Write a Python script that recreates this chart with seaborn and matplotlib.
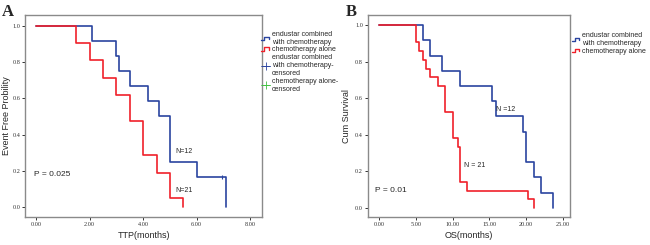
import numpy as np
import pandas as pd
import matplotlib
matplotlib.use('Agg')
import matplotlib.pyplot as plt
import seaborn as sns
from matplotlib.legend_handler import HandlerBase
from matplotlib.lines import Line2D

# ── Dados (curvas de Kaplan-Meier, degraus) ─────────────────────────────────
# Painel A: TTP
ttp_time_combo = [0.0, 2.1, 3.0, 3.1, 3.5, 4.2, 4.6, 5.0, 6.0, 7.1]
ttp_surv_combo = [1.0, 0.917, 0.833, 0.75, 0.667, 0.583, 0.5, 0.25, 0.167, 0.0]
ttp_time_chemo = [0.0, 1.5, 2.0, 2.5, 3.0, 3.5, 4.0, 4.5, 5.0, 5.5]
ttp_surv_chemo = [1.0, 0.905, 0.81, 0.714, 0.619, 0.476, 0.286, 0.19, 0.048, 0.0]
ttp_cens_time = [6.95]
ttp_cens_surv = [0.167]

# Painel B: OS
os_time_combo = [0.0, 6.0, 7.0, 8.5, 11.0, 15.4, 15.9, 19.5, 20.0, 21.0, 22.0, 23.6]
os_surv_combo = [1.0, 0.917, 0.833, 0.75, 0.667, 0.583, 0.5, 0.417, 0.25, 0.167, 0.083, 0.0]
os_time_chemo = [0.0, 5.0, 5.4, 6.0, 6.45, 7.0, 8.0, 9.0, 10.1, 10.7, 11.0, 12.0, 20.3, 21.0]
os_surv_chemo = [1.0, 0.905, 0.857, 0.81, 0.762, 0.714, 0.667, 0.524, 0.381, 0.333,
                 0.143, 0.095, 0.048, 0.0]

ttp_ticks = [0, 2, 4, 6, 8]
os_ticks = [0, 5, 10, 15, 20, 25]
y_ticks = [0.0, 0.2, 0.4, 0.6, 0.8, 1.0]

BLUE = '#2a44a0'
RED = '#f0202a'
GREEN = '#40c040'

sns.set_theme(style='ticks')
plt.rcParams['font.family'] = ['Liberation Sans', 'DejaVu Sans']


class StepHandler(HandlerBase):
    # ícone em degrau, como no SPSS
    def create_artists(self, legend, orig_handle, xd, yd, w, h, fontsize, trans):
        x0 = -xd
        y0 = -yd
        xs = [x0, x0 + w * 0.35, x0 + w * 0.35, x0 + w * 0.8, x0 + w * 0.8]
        ys = [y0 + h * 0.15, y0 + h * 0.15, y0 + h * 0.8, y0 + h * 0.8, y0 + h * 0.3]
        ln = Line2D(xs, ys, color=orig_handle.get_color(), lw=1.0, transform=trans)
        return [ln]


def km_panel(ax, t1, s1, t2, s2, xlim, ylim, xticks):
    sns.lineplot(x=t1, y=s1, ax=ax, drawstyle='steps-post', color=BLUE, lw=1.2,
                 estimator=None, sort=False)
    sns.lineplot(x=t2, y=s2, ax=ax, drawstyle='steps-post', color=RED, lw=1.2,
                 estimator=None, sort=False)
    ax.set_xlim(*xlim)
    ax.set_ylim(*ylim)
    ax.set_xticks(xticks)
    ax.set_xticklabels([f'{v:.2f}' for v in xticks], family='Liberation Serif', fontsize=4.5)
    ax.set_yticks(y_ticks)
    ax.set_yticklabels([f'{v:.1f}' for v in y_ticks], family='Liberation Serif', fontsize=4.5)
    ax.tick_params(length=2, width=0.7, pad=1.5, colors='#333333')
    for sp in ax.spines.values():
        sp.set_color('#8a8a8a')
        sp.set_linewidth(1.0)


fig = plt.figure(figsize=(6.5, 2.45), dpi=100)
axA = fig.add_axes([0.0385, 0.114, 0.365, 0.825])
axB = fig.add_axes([0.566, 0.114, 0.311, 0.825])

# ── Painel A ────────────────────────────────────────────────────────────────
km_panel(axA, ttp_time_combo, ttp_surv_combo, ttp_time_chemo, ttp_surv_chemo,
         (-0.41, 8.45), (-0.055, 1.06), ttp_ticks)
axA.plot(ttp_cens_time, ttp_cens_surv, marker='|', ms=3, mew=0.8, color=BLUE, ls='none')
axA.set_xlabel('TTP(months)', fontsize=6.5, labelpad=3)
axA.set_ylabel('Event Free Probility', fontsize=6.5, labelpad=1)
axA.text(5.2, 0.30, 'N=12', fontsize=5)
axA.text(5.2, 0.085, 'N=21', fontsize=5)
axA.text(-0.07, 0.17, 'P = 0.025', fontsize=6)

# ── Painel B ────────────────────────────────────────────────────────────────
km_panel(axB, os_time_combo, os_surv_combo, os_time_chemo, os_surv_chemo,
         (-1.5, 25.95), (-0.05, 1.055), os_ticks)
axB.set_xlabel('OS(months)', fontsize=6.5, labelpad=3)
axB.set_ylabel('Cum Survival', fontsize=6.5, labelpad=3)
axB.text(15.9, 0.53, 'N =12', fontsize=5)
axB.text(11.6, 0.225, 'N = 21', fontsize=5)
axB.text(-0.6, 0.085, 'P = 0.01', fontsize=6)

fig.text(0.003, 0.985, 'A', fontsize=12, fontweight='bold', family='Liberation Serif',
         va='top')
fig.text(0.532, 0.985, 'B', fontsize=12, fontweight='bold', family='Liberation Serif',
         va='top')

# ── Legendas ────────────────────────────────────────────────────────────────
hA = [Line2D([], [], color=BLUE), Line2D([], [], color=RED),
      Line2D([], [], color=BLUE, marker='+', ms=6, mew=0.6, lw=0.6),
      Line2D([], [], color=GREEN, marker='+', ms=6, mew=0.6, lw=0.6)]
labA = ['endustar combined\nwith chemotherapy', 'chemotherapy alone',
        'endustar combined\nwith chemotherapy-\ncensored', 'chemotherapy alone-\ncensored']
hmap = {hA[0]: StepHandler(), hA[1]: StepHandler()}
fig.legend(hA, labA, loc='upper left', bbox_to_anchor=(0.402, 0.875), frameon=False,
           fontsize=5, handlelength=1.3, handletextpad=0.2, labelspacing=0.1,
           borderpad=0, borderaxespad=0, handler_map=hmap)

hB = [Line2D([], [], color=BLUE), Line2D([], [], color=RED)]
labB = ['endustar combined\nwith chemotherapy', 'chemotherapy alone']
fig.legend(hB, labB, loc='upper left', bbox_to_anchor=(0.88, 0.87), frameon=False,
           fontsize=5, handlelength=1.3, handletextpad=0.2, labelspacing=0.1,
           borderpad=0, borderaxespad=0,
           handler_map={hB[0]: StepHandler(), hB[1]: StepHandler()})

plt.savefig('out.png', dpi=100)
